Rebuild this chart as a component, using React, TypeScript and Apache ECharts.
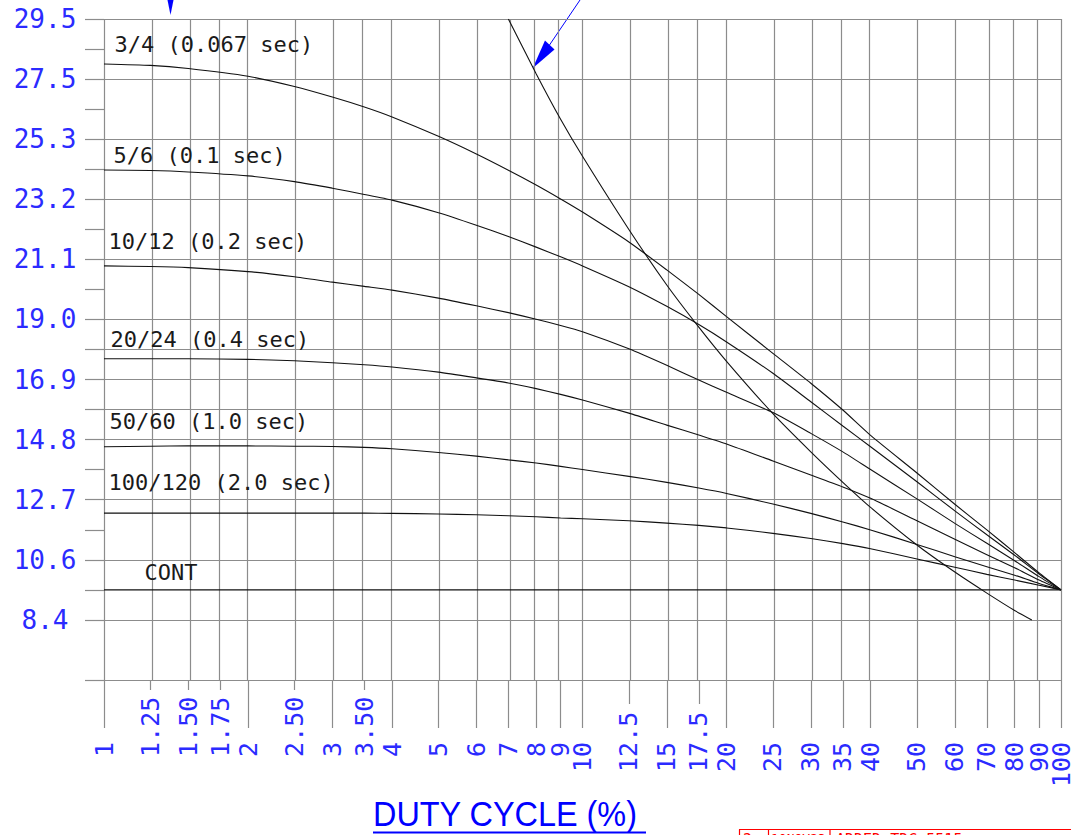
import React, { useEffect, useRef } from 'react';
import * as echarts from 'echarts';

// ---------------- axis ticks ----------------
const xTickValues = [1, 1.25, 1.5, 1.75, 2, 2.5, 3, 3.5, 4, 5, 6, 7, 8, 9, 10, 12.5, 15, 17.5, 20, 25, 30, 35, 40, 50, 60, 70, 80, 90, 100];
const xTickLabels = ['1', '1.25', '1.50', '1.75', '2', '2.50', '3', '3.50', '4', '5', '6', '7', '8', '9', '10', '12.5', '15', '17.5', '20', '25', '30', '35', '40', '50', '60', '70', '80', '90', '100'];

const yMin = 6.33;
const yMax = 29.54;
const yLabelValues = [8.44, 10.55, 12.66, 14.77, 16.88, 18.99, 21.1, 23.21, 25.32, 27.43, 29.54];
const yLabelTexts = ['8.4', '10.6', '12.7', '14.8', '16.9', '19.0', '21.1', '23.2', '25.3', '27.5', '29.5'];
const yMinorTickValues = [9.495, 11.605, 13.715, 15.825, 17.935, 20.045, 22.155, 24.265, 26.375, 28.485];
const yExtraGridValues = [15.825, 17.935];

// ---------------- curves ----------------
const curveDuty = [1, 1.25, 1.5, 2, 2.5, 3, 3.5, 4, 5, 6, 7, 8, 9, 10, 12.5, 15, 17.5, 20, 25, 30, 35, 40, 50, 60, 70, 80, 90, 100];
const curve3of4 = [27.96, 27.91, 27.8, 27.53, 27.17, 26.8, 26.45, 26.1, 25.42, 24.8, 24.23, 23.71, 23.22, 22.76, 21.71, 20.73, 19.87, 19.09, 17.8, 16.75, 15.81, 14.92, 13.6, 12.5, 11.6, 10.8, 10.09, 9.495];
const curve5of6 = [24.24, 24.22, 24.17, 24.03, 23.83, 23.6, 23.38, 23.18, 22.74, 22.3, 21.9, 21.53, 21.19, 20.87, 20.14, 19.45, 18.81, 18.2, 17.1, 16.1, 15.25, 14.52, 13.29, 12.27, 11.43, 10.71, 10.05, 9.495];
const curve10of12 = [20.87, 20.85, 20.81, 20.67, 20.49, 20.3, 20.15, 20.02, 19.74, 19.47, 19.23, 19.0, 18.78, 18.56, 17.96, 17.38, 16.86, 16.43, 15.72, 14.99, 14.34, 13.72, 12.69, 11.83, 11.13, 10.52, 9.96, 9.495];
const curve20of24 = [17.61, 17.61, 17.61, 17.59, 17.54, 17.47, 17.4, 17.32, 17.14, 16.94, 16.76, 16.56, 16.36, 16.16, 15.7, 15.28, 14.93, 14.62, 14.02, 13.53, 13.11, 12.71, 11.92, 11.27, 10.73, 10.27, 9.84, 9.495];
const curve50of60 = [14.52, 14.54, 14.55, 14.55, 14.54, 14.53, 14.5, 14.45, 14.32, 14.19, 14.06, 13.95, 13.83, 13.72, 13.48, 13.27, 13.07, 12.88, 12.51, 12.18, 11.88, 11.6, 11.09, 10.66, 10.31, 10.01, 9.72, 9.495];
const curve100of120 = [12.19, 12.19, 12.19, 12.19, 12.19, 12.19, 12.19, 12.18, 12.16, 12.13, 12.1, 12.06, 12.02, 11.99, 11.92, 11.84, 11.76, 11.67, 11.48, 11.3, 11.12, 10.94, 10.58, 10.29, 10.04, 9.84, 9.66, 9.495];
const limitDuty = [7, 8, 9, 10, 12.5, 15, 17.5, 20, 25, 30, 35, 40, 50, 60, 70, 80, 86.9];
const limitValues = [29.54, 27.62, 26.02, 24.72, 22.15, 20.2, 18.72, 17.52, 15.68, 14.34, 13.27, 12.39, 11.07, 10.12, 9.38, 8.77, 8.44];
const contDuty = [1, 100];
const contValues = [9.495, 9.495];

const curveNames = ['3/4 (0.067 sec)', '5/6 (0.1 sec)', '10/12 (0.2 sec)', '20/24 (0.4 sec)', '50/60 (1.0 sec)', '100/120 (2.0 sec)', 'CONT'];
const curveLabelDuty = [1.052, 1.047, 1.022, 1.032, 1.027, 1.022, 1.215];
const curveLabelValue = [28.63, 24.73, 21.71, 18.27, 15.42, 13.28, 10.09];

const lg = (d: number) => Math.log10(d);
const intPart = (s: string) => s.split('.')[0];
const fracPart = (s: string) => (s.includes('.') ? '.' + s.split('.')[1] : '');
const xIdx = (v: number) => xTickValues.findIndex((t) => Math.abs(lg(t) - v) < 1e-4);
// decimal-aligned label: integer part right-aligned in 3 monospace cells, then the fraction
const padLabel = (s: string) => '\u00a0'.repeat(3 - intPart(s).length) + intPart(s) + fracPart(s);

const BLUE = '#2b2bff';
const GRID = '#8c8c8c';
const MONO = '"DejaVu Sans Mono", monospace';

export default function App() {
  const ref = useRef<HTMLDivElement>(null);
  useEffect(() => {
    if (!ref.current) return;
    const chart = echarts.init(ref.current, undefined, { renderer: 'svg' });

    const intTickVals = xTickValues.filter((_, i) => !xTickLabels[i].includes('.')).map(lg);
    const frac2Vals = xTickValues.filter((_, i) => fracPart(xTickLabels[i]).length === 3).map(lg);
    const frac1Vals = xTickValues.filter((_, i) => fracPart(xTickLabels[i]).length === 2).map(lg);
    // an empty spacer label just before the last one, so that the automatic
    // min/max-label overlap check does not hide the "90" label
    const labelVals = xTickValues.map(lg);
    labelVals.splice(labelVals.length - 1, 0, (labelVals[labelVals.length - 2] + labelVals[labelVals.length - 1]) / 2);

    const xBase = {
      type: 'value',
      min: 0,
      max: 2,
      position: 'bottom',
      axisLine: { show: false },
      splitLine: { show: false },
    };

    const curveSets = [curve3of4, curve5of6, curve10of12, curve20of24, curve50of60, curve100of120];
    const allDuty = [curveDuty, curveDuty, curveDuty, curveDuty, curveDuty, curveDuty, contDuty];
    const allVals = [...curveSets, contValues];

    const mkLabel = (i: number) => ({
      symbol: 'circle',
      symbolSize: 0,
      silent: true,
      itemStyle: { color: 'transparent' },
      data: [
        {
          coord: [lg(curveLabelDuty[i]), curveLabelValue[i]],
          label: {
            show: true,
            position: 'right',
            distance: 0,
            formatter: curveNames[i],
            color: '#1a1a1a',
            fontFamily: MONO,
            fontSize: 22,
          },
        },
      ],
    });

    const curveSeries = allVals.map((vals, i) => ({
      type: 'line',
      name: curveNames[i],
      data: allDuty[i].map((d, j) => [lg(d), vals[j]]),
      showSymbol: false,
      symbol: 'none',
      smooth: 0.2,
      silent: true,
      z: 3,
      lineStyle: { color: '#111', width: i === 6 ? 1.3 : 1.1 },
      markPoint: mkLabel(i),
    }));

    const limitSeries = {
      type: 'line',
      name: 'limit',
      data: limitDuty.map((d, j) => [lg(d), limitValues[j]]),
      showSymbol: false,
      symbol: 'none',
      smooth: 0.2,
      silent: true,
      z: 3,
      lineStyle: { color: '#111', width: 1.1 },
    };

    const gridSeries = {
      type: 'line',
      name: 'grid',
      data: [],
      silent: true,
      z: 1,
      markLine: {
        silent: true,
        z: 1,
        symbol: ['none', 'none'],
        label: { show: false },
        lineStyle: { color: GRID, width: 1.2, type: 'solid' },
        emphasis: { disabled: true },
        data: [
          ...xTickValues.map((v) => ({ xAxis: lg(v) })),
          ...[yMin, ...yLabelValues, ...yExtraGridValues].map((v) => ({ yAxis: v })),
        ],
      },
    };

    const option: any = {
      animation: false,
      backgroundColor: '#ffffff',
      grid: { left: 104, right: 10, top: 19, bottom: 155, containLabel: false, outerBoundsMode: 'none' },
      xAxis: [
        {
          ...xBase,
          axisTick: { show: true, length: 48, customValues: intTickVals, lineStyle: { color: GRID, width: 1.2 } },
          axisLabel: {
            rotate: 90,
            margin: 107,
            align: 'left',
            verticalAlign: 'middle',
            showMinLabel: true,
            showMaxLabel: true,
            hideOverlap: false,
            customValues: labelVals,
            formatter: (v: number) => {
              const i = xIdx(v);
              return i >= 0 ? '{t|' + padLabel(xTickLabels[i]) + '}' : '';
            },
            rich: {
              t: { color: BLUE, fontFamily: MONO, fontSize: 25, lineHeight: 14 },
            },
          },
        },
        {
          ...xBase,
          axisTick: { show: true, length: 10, customValues: frac2Vals, lineStyle: { color: GRID, width: 1.2 } },
          axisLabel: { show: false },
        },
        {
          ...xBase,
          axisTick: { show: true, length: 24, customValues: frac1Vals, lineStyle: { color: GRID, width: 1.2 } },
          axisLabel: { show: false },
        },
      ],
      yAxis: {
        type: 'value',
        min: yMin,
        max: yMax,
        axisLine: { show: false },
        splitLine: { show: false },
        axisTick: {
          show: true,
          length: 19,
          customValues: [yMin, ...yLabelValues, ...yMinorTickValues],
          lineStyle: { color: GRID, width: 1.2 },
        },
        axisLabel: {
          customValues: yLabelValues,
          align: 'center',
          margin: 59,
          color: BLUE,
          fontFamily: MONO,
          fontSize: 26,
          showMinLabel: true,
          showMaxLabel: true,
          formatter: (v: number) => {
            const i = yLabelValues.findIndex((t) => Math.abs(t - v) < 1e-4);
            return i >= 0 ? yLabelTexts[i] : '';
          },
        },
      },
      series: [gridSeries, ...curveSeries, limitSeries],
      graphic: [
        // annotation arrows
        { type: 'polygon', shape: { points: [[167.5, 0], [173.5, 0], [170.5, 15]] }, style: { fill: '#0000ff' }, silent: true },
        { type: 'polyline', shape: { points: [[580, 0], [549.5, 45]] }, style: { stroke: '#0000ff', lineWidth: 1, fill: null }, silent: true },
        { type: 'polygon', shape: { points: [[532.7, 68.3], [545, 40.5], [554.5, 49.5]] }, style: { fill: '#0000ff' }, silent: true },
        // axis title
        {
          type: 'text',
          x: 373,
          y: 813,
          scaleX: 0.9,
          style: { text: 'DUTY CYCLE (%)', fill: '#0000ff', font: '36px "Liberation Sans", Arial, sans-serif', verticalAlign: 'middle', align: 'left' },
          silent: true,
        },
        { type: 'line', shape: { x1: 373, y1: 832.5, x2: 646, y2: 832.5 }, style: { stroke: '#0000ff', lineWidth: 2 }, silent: true },
        // revision block (cropped by the picture edge, as in the reference)
        { type: 'line', shape: { x1: 739, y1: 829.5, x2: 1071, y2: 829.5 }, style: { stroke: '#ff0000', lineWidth: 1.2 }, silent: true },
        { type: 'line', shape: { x1: 739.5, y1: 829.5, x2: 739.5, y2: 835 }, style: { stroke: '#ff0000', lineWidth: 1.2 }, silent: true },
        { type: 'line', shape: { x1: 768.5, y1: 829.5, x2: 768.5, y2: 835 }, style: { stroke: '#ff0000', lineWidth: 1.2 }, silent: true },
        { type: 'line', shape: { x1: 830, y1: 829.5, x2: 830, y2: 835 }, style: { stroke: '#ff0000', lineWidth: 1.2 }, silent: true },
        { type: 'text', x: 743, y: 832, style: { text: '2', fill: '#ff0000', font: '15px "DejaVu Sans Mono", monospace', verticalAlign: 'top' }, silent: true },
        { type: 'text', x: 771, y: 832, style: { text: '10NOV23', fill: '#ff0000', font: '13px "DejaVu Sans Mono", monospace', verticalAlign: 'top' }, silent: true },
        { type: 'text', x: 836, y: 832, style: { text: 'ADDED TDC 5515', fill: '#ff0000', font: '15px "DejaVu Sans Mono", monospace', verticalAlign: 'top' }, silent: true },
      ],
    };

    chart.setOption(option);
    return () => chart.dispose();
  }, []);

  return (
    <div
      ref={ref}
      style={{ position: 'absolute', left: 0, top: 0, width: 1071, height: 835, background: '#fff' }}
    />
  );
}
